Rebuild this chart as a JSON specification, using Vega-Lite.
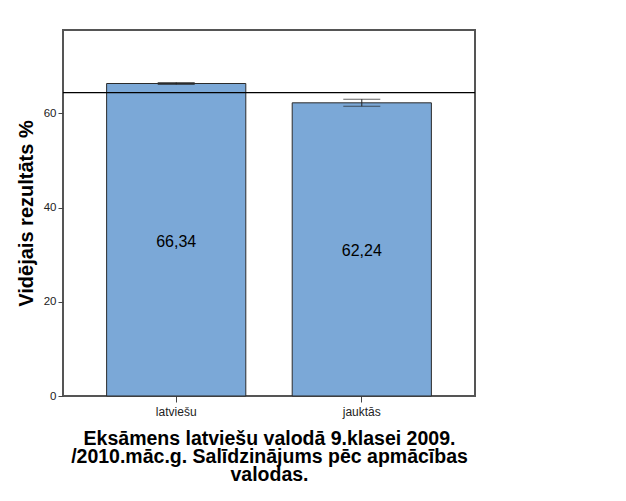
{
  "$schema": "https://vega.github.io/schema/vega-lite/v6.json",
  "autosize": "none",
  "width": 412,
  "height": 366,
  "padding": {"left": 63, "top": 30, "right": 151, "bottom": 105},
  "background": "white",
  "data": {
    "values": [
      {"valoda": "latviešu", "mean": 66.34, "low": 66.15, "high": 66.55, "label": "66,34", "overall": 64.4},
      {"valoda": "jauktās", "mean": 62.24, "low": 61.5, "high": 63.0, "label": "62,24", "overall": 64.4}
    ]
  },
  "encoding": {
    "x": {
      "field": "valoda",
      "type": "nominal",
      "sort": ["latviešu", "jauktās"],
      "scale": {"paddingInner": 0.25, "paddingOuter": 0.235},
      "axis": {
        "title": ["Eksāmens latviešu valodā 9.klasei 2009.", "/2010.māc.g. Salīdzinājums pēc apmācības", "valodas."],
        "titleFont": "Liberation Sans",
        "titleFontSize": 19.5,
        "titleFontWeight": "bold",
        "titleColor": "black",
        "titleLineHeight": 18,
        "titlePadding": 12,
        "labelAngle": 0,
        "labelFont": "Liberation Sans",
        "labelFontSize": 12,
        "labelColor": "#222",
        "labelPadding": 4,
        "tickSize": 6,
        "tickColor": "#444",
        "domain": false
      }
    }
  },
  "layer": [
    {
      "mark": {"type": "bar", "fill": "#7BA8D7", "stroke": "#2b2b2b", "strokeWidth": 1},
      "encoding": {
        "y": {
          "field": "mean",
          "type": "quantitative",
          "scale": {"domain": [0, 77.7], "nice": false},
          "axis": {
            "title": "Vidējais rezultāts %",
            "titleFont": "Liberation Sans",
            "titleFontSize": 20,
            "titleFontWeight": "bold",
            "titleColor": "black",
            "titlePadding": 7,
            "values": [0, 20, 40, 60],
            "labelFont": "Liberation Sans",
            "labelFontSize": 11.5,
            "labelColor": "#222",
            "tickSize": 5,
            "tickColor": "#444",
            "grid": false,
            "domain": false
          }
        }
      }
    },
    {
      "mark": {"type": "rule", "color": "#222", "strokeWidth": 1},
      "encoding": {
        "y": {"field": "low", "type": "quantitative"},
        "y2": {"field": "high"}
      }
    },
    {
      "mark": {"type": "tick", "color": "#222", "thickness": 1, "size": 37, "orient": "horizontal"},
      "encoding": {
        "y": {"field": "low", "type": "quantitative"}
      }
    },
    {
      "mark": {"type": "tick", "color": "#222", "thickness": 1, "size": 37, "orient": "horizontal"},
      "encoding": {
        "y": {"field": "high", "type": "quantitative"}
      }
    },
    {
      "transform": [{"calculate": "datum.mean / 2", "as": "mid"}],
      "mark": {"type": "text", "font": "Liberation Sans", "fontSize": 16, "color": "black", "baseline": "middle", "dy": 2},
      "encoding": {
        "y": {"field": "mid", "type": "quantitative"},
        "text": {"field": "label"}
      }
    },
    {
      "mark": {"type": "rule", "color": "black", "strokeWidth": 1.2},
      "encoding": {
        "y": {"aggregate": "mean", "field": "overall", "type": "quantitative"},
        "x": {"value": 0},
        "x2": {"value": 412}
      }
    }
  ],
  "config": {
    "view": {"stroke": "#555", "strokeWidth": 2}
  }
}
